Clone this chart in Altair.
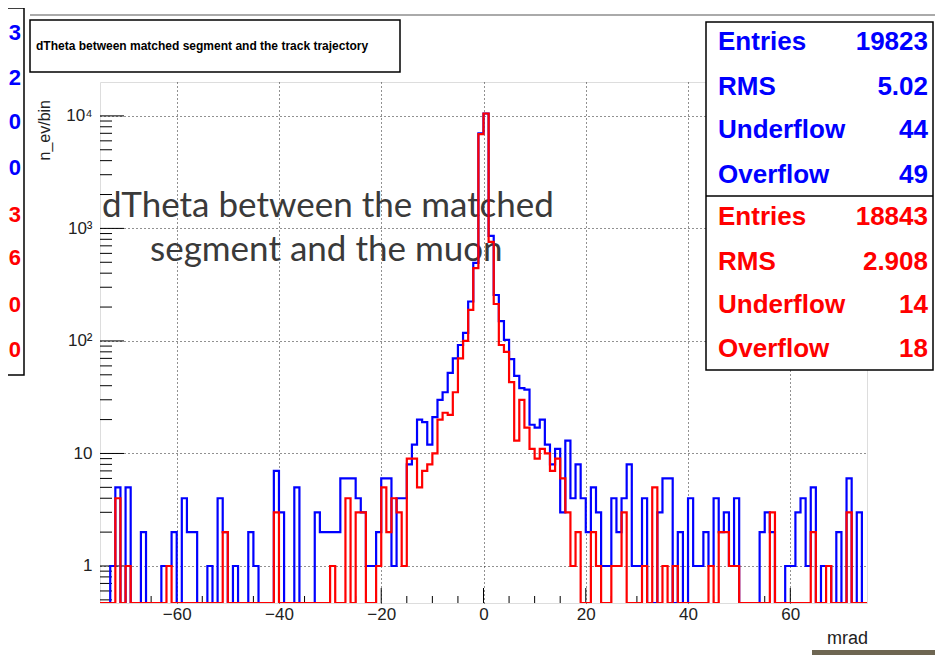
import altair as alt
import pandas as pd

# ---------------- data ----------------
x_lo, x_hi = -75, 75
y_lo, y_hi = 0.469, 20000

blue_counts = [
    0, 0, 1, 5, 0, 5, 0, 0, 2, 0, 0, 0, 1, 1, 2, 0, 4, 2, 2, 0, 0, 1, 0, 4, 2,
    0, 1, 0, 0, 2, 1, 0, 0, 0, 7, 3, 0, 0, 5, 0, 0, 0, 3, 2, 2, 2, 2, 6, 6, 6,
    4, 3, 1, 1, 2, 6, 6, 1, 4, 4, 8, 12, 20, 19, 12, 21, 30, 35, 52, 70, 92, 118, 224, 494, 7000,
    10500, 860, 256, 150, 102, 69, 49, 38, 37, 18, 17, 20, 12, 8, 11, 3, 13, 4, 8, 4, 2, 5, 3, 1, 1,
    4, 2, 4, 8, 1, 1, 4, 0, 0, 3, 6, 6, 0, 2, 0, 4, 1, 1, 2, 1, 4, 2, 3, 1, 4,
    0, 0, 0, 0, 2, 3, 2, 0, 0, 1, 1, 3, 4, 1, 5, 0, 1, 1, 0, 2, 0, 6, 0, 3, 0,
]
red_counts = [
    0, 0, 0, 4, 0, 1, 0, 0, 0, 0, 0, 0, 0, 1, 0, 0, 0, 0, 0, 0, 0, 0, 0, 0, 2,
    0, 0, 0, 0, 0, 0, 0, 0, 0, 3, 0, 0, 0, 0, 0, 0, 0, 0, 0, 0, 1, 0, 0, 4, 0,
    3, 3, 0, 0, 1, 5, 2, 4, 3, 1, 9, 9, 5, 7, 8, 10, 20, 23, 22, 35, 70, 100, 189, 443, 6880,
    10500, 760, 213, 92, 80, 43, 13, 30, 17, 11, 9, 11, 10, 7, 9, 6, 3, 1, 2, 0, 0, 2, 1, 0, 0,
    1, 1, 3, 0, 0, 0, 1, 0, 5, 0, 1, 0, 1, 0, 0, 0, 0, 0, 0, 1, 0, 2, 2, 1, 1,
    0, 0, 0, 0, 0, 0, 3, 0, 0, 0, 0, 0, 0, 0, 2, 0, 0, 1, 0, 0, 0, 3, 0, 0, 0,
]

x_major = [-60, -40, -20, 0, 20, 40, 60]
x_minor = [v for v in range(-70, 75, 5) if v not in x_major]
y_major = [1, 10, 100, 1000, 10000]
y_minor = [m * d for d in [0.1, 1, 10, 100, 1000] for m in range(2, 10) if m * d > y_lo]

stat_names = ["Entries", "RMS", "Underflow", "Overflow"]
blue_stats = ["19823", "5.02", "44", "49"]
red_stats = ["18843", "2.908", "14", "18"]
left_blue = ["3", "2", "0", "0"]
left_red = ["3", "6", "0", "0"]

title_text = "dTheta between matched segment and the track trajectory"
note_lines = ["dTheta between the matched", "segment and the muon"]
x_title = "mrad"
y_title = "n_ev/bin"

# ---------------- build tables ----------------
edges = list(range(x_lo, x_hi + 1))
rows = []
for name, counts in [("blue", blue_counts), ("red", red_counts)]:
    for i, e in enumerate(edges):
        c = counts[min(i, len(counts) - 1)]
        rows.append({"series": name, "x": e, "n": c, "yp": max(c, y_lo)})
hist = pd.DataFrame(rows)

W, H = 767, 521
FONT = "Liberation Sans"
BLUE, RED = "#0000ff", "#ff0000"

xs = alt.Scale(domain=[x_lo, x_hi], nice=False, zero=False)
ys = alt.Scale(type="log", domain=[y_lo, y_hi], nice=False)

one = pd.DataFrame({"a": [0]})


def text_layer(t, x, y, size, color, align="left", weight="normal", font=FONT, angle=0):
    return alt.Chart(pd.DataFrame({"t": [t]})).mark_text(
        align=align, baseline="middle", fontSize=size, color=color,
        fontWeight=weight, font=font, angle=angle,
    ).encode(x=alt.value(x), y=alt.value(y), text="t:N")


def box(x1, x2, y1, y2, sw=1.5, fill="white", stroke="black"):
    return alt.Chart(one).mark_rect(fill=fill, stroke=stroke, strokeWidth=sw).encode(
        x=alt.value(x1), x2=alt.value(x2), y=alt.value(y1), y2=alt.value(y2)
    )


layers = []

# axes + grid (carried by an invisible layer)
axis_layer = alt.Chart(hist).mark_line(opacity=0).encode(
    x=alt.X("x:Q", scale=xs, axis=alt.Axis(
        values=x_major, grid=True, gridDash=[1, 3], gridColor="#222", gridWidth=1,
        ticks=False, domain=False, labelFont=FONT, labelFontSize=17, labelColor="#222",
        labelPadding=3, title=None)),
    y=alt.Y("yp:Q", scale=ys, axis=alt.Axis(
        values=y_major, grid=True, gridDash=[1, 3], gridColor="#222", gridWidth=1,
        ticks=False, domain=False, labelFont=FONT, labelFontSize=17, labelColor="#222",
        labelPadding=8, title=None,
        labelExpr="datum.value==10000?'10⁴':datum.value==1000?'10³':datum.value==100?'10²':datum.label")),
)
layers.append(axis_layer)

# annotation under the histogram
layers.append(text_layer(note_lines[0], 2, 124, 35, "#3a3a3a", font="Lato"))
layers.append(text_layer(note_lines[1], 50, 168, 35, "#3a3a3a", font="Lato"))

# ticks (inside)
layers.append(alt.Chart(pd.DataFrame({"v": x_major})).mark_rule(color="black").encode(
    x=alt.X("v:Q", scale=xs), y=alt.value(H), y2=alt.value(H - 15)))
layers.append(alt.Chart(pd.DataFrame({"v": x_minor})).mark_rule(color="black").encode(
    x=alt.X("v:Q", scale=xs), y=alt.value(H), y2=alt.value(H - 7)))
layers.append(alt.Chart(pd.DataFrame({"v": y_major})).mark_rule(color="black").encode(
    y=alt.Y("v:Q", scale=ys), x=alt.value(0), x2=alt.value(24)))
layers.append(alt.Chart(pd.DataFrame({"v": y_minor})).mark_rule(color="black").encode(
    y=alt.Y("v:Q", scale=ys), x=alt.value(0), x2=alt.value(12)))

# histograms
for name, col in [("blue", BLUE), ("red", RED)]:
    layers.append(alt.Chart(hist[hist.series == name]).mark_line(
        interpolate="step-after", color=col, strokeWidth=2.2, clip=True).encode(
        x=alt.X("x:Q", scale=xs), y=alt.Y("yp:Q", scale=ys)))

# titles
layers.append(text_layer(x_title, 768, 557, 18, "#222", align="right"))
layers.append(text_layer(y_title, -55, 18, 16, "#222", align="right", angle=270))

# decoration: top line, title box, left partial box
layers.append(alt.Chart(one).mark_rule(color="#aaaaaa", strokeWidth=2).encode(
    x=alt.value(-70), x2=alt.value(840), y=alt.value(-67)))
layers.append(box(-70, 300, -62, -10))
layers.append(text_layer(title_text, -64, -36, 12, "black", weight="bold"))
layers.append(box(-120, -76, -74, 293))
left_rows = [-49, -4, 40, 86, 133, 176, 223, 268]
for i, t in enumerate(left_blue + left_red):
    layers.append(text_layer(t, -79, left_rows[i], 22, BLUE if i < 4 else RED,
                             align="right", weight="bold"))

# stats box
layers.append(box(606, 833, -60, 288))
layers.append(alt.Chart(one).mark_rule(color="black", strokeWidth=1.5).encode(
    x=alt.value(606), x2=alt.value(833), y=alt.value(114)))
stat_rows = [-40, 5, 48, 93, 135, 180, 223, 267]
for i in range(8):
    col = BLUE if i < 4 else RED
    vals = blue_stats if i < 4 else red_stats
    layers.append(text_layer(stat_names[i % 4], 618, stat_rows[i], 26, col, weight="bold"))
    layers.append(text_layer(vals[i % 4], 828, stat_rows[i], 26, col, align="right", weight="bold"))

# bottom right strip
layers.append(box(712, 835, 568, 573, sw=0, fill="#6e6652", stroke="#6e6652"))

chart = alt.layer(*layers).properties(
    width=W, height=H,
    padding={"left": 92, "top": 74, "right": 68, "bottom": 52},
    autosize="none",
).configure_view(stroke="black", strokeWidth=1.2).configure(background="white")

chart.save("out.html", embed_options={"renderer": "svg", "actions": False})
